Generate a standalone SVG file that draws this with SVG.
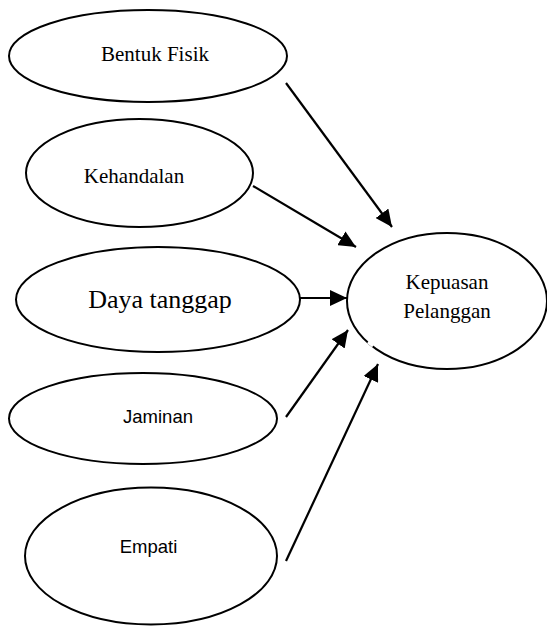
<svg xmlns="http://www.w3.org/2000/svg" width="547" height="626" viewBox="0 0 547 626">
<style>
.node ellipse{fill:#fff;stroke:#000;stroke-width:2}
.serif{font-family:"Liberation Serif","Times New Roman",serif;font-size:21px;fill:#000;text-anchor:middle}
.sans{font-family:"Liberation Sans",Arial,sans-serif;font-size:18.5px;fill:#000;text-anchor:middle}
#connectors line{stroke:#000;stroke-width:2.2;marker-end:url(#arrow)}
</style>
<defs>
<marker id="arrow" markerUnits="userSpaceOnUse" markerWidth="18" markerHeight="16" refX="17" refY="8" orient="auto">
<path d="M0,0 L17,8 L0,16 Z" fill="#000"/>
</marker>
</defs>
<rect width="547" height="626" fill="#fff"/>
<g id="bentuk-fisik" class="node">
<ellipse cx="148" cy="56" rx="139" ry="46"/>
<text class="serif" x="155" y="61">Bentuk Fisik</text>
</g>
<g id="kehandalan" class="node">
<ellipse cx="139.5" cy="173" rx="113.5" ry="54"/>
<text class="serif" x="134" y="183">Kehandalan</text>
</g>
<g id="daya-tanggap" class="node">
<ellipse cx="158" cy="299.5" rx="142" ry="52.5"/>
<text class="serif" x="160" y="308" style="font-size:26px">Daya tanggap</text>
</g>
<g id="jaminan" class="node">
<ellipse cx="143" cy="418.5" rx="134" ry="45.5"/>
<text class="sans" x="158" y="423">Jaminan</text>
</g>
<g id="empati" class="node">
<ellipse cx="151" cy="556" rx="126" ry="68.5"/>
<text class="sans" x="148.5" y="553">Empati</text>
</g>
<g id="kepuasan-pelanggan" class="node">
<ellipse cx="447" cy="301" rx="100" ry="68"/>
<line x1="368" y1="342" x2="373" y2="346" stroke="#fff" stroke-width="3"/>
<text class="serif" x="447" y="289">Kepuasan</text>
<text class="serif" x="447" y="318">Pelanggan</text>
</g>
<g id="connectors">
<line x1="286" y1="83" x2="392" y2="227"/>
<line x1="253" y1="186" x2="356" y2="247"/>
<line x1="300" y1="298" x2="347" y2="298"/>
<line x1="286" y1="417" x2="348" y2="330"/>
<line x1="286" y1="561" x2="378" y2="364"/>
</g>
</svg>
